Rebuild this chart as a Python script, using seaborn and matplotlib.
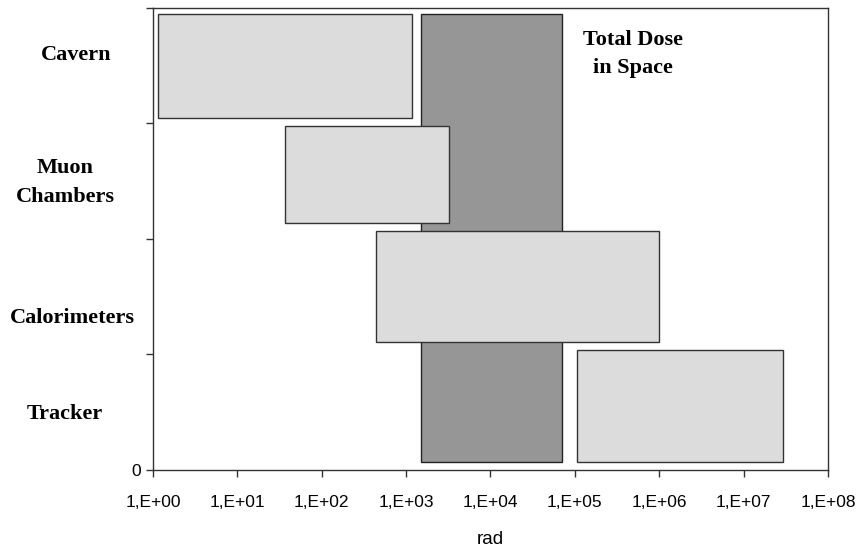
import pandas as pd
import seaborn as sns
import matplotlib.pyplot as plt
import matplotlib.transforms as mtransforms
from matplotlib.ticker import FixedLocator, FixedFormatter

# detector regions, dose range in rad and vertical extent of each box
regions = ['Cavern', 'Muon\nChambers', 'Calorimeters', 'Tracker']
dose_low = [1.15, 37, 435, 1.06e5]
dose_high = [1.18e3, 3.24e3, 9.9e5, 2.95e7]
band_bottom = [3.05, 2.14, 1.105, 0.07]
band_top = [3.95, 2.975, 2.07, 1.035]
label_y = [3.59, 2.49, 1.32, 0.485]

# total dose in space band
space_low = 1.49e3
space_high = 6.96e4
space_bottom = 0.07
space_top = 3.95

xtick_values = [1e0, 1e1, 1e2, 1e3, 1e4, 1e5, 1e6, 1e7, 1e8]
xtick_labels = ['1,E+00', '1,E+01', '1,E+02', '1,E+03', '1,E+04',
                '1,E+05', '1,E+06', '1,E+07', '1,E+08']

df = pd.DataFrame({'region': regions, 'low': dose_low, 'high': dose_high,
                   'bottom': band_bottom, 'top': band_top})

sns.set_style('ticks')
plt.rcParams['font.family'] = ['Liberation Sans', 'DejaVu Sans']
plt.rcParams['text.color'] = 'black'
plt.rcParams['axes.labelcolor'] = 'black'

fig = plt.figure(figsize=(8.58, 5.5), dpi=100)
ax = fig.add_axes([0.1783, 0.1455, 0.7867, 0.84])

ax.barh(y=(space_bottom + space_top) / 2, width=space_high - space_low,
        height=space_top - space_bottom, left=space_low, align='center',
        color='#969696', edgecolor='#222222', linewidth=1.0, zorder=1)

ax.barh(y=(df['bottom'] + df['top']) / 2, width=df['high'] - df['low'],
        height=df['top'] - df['bottom'], left=df['low'], align='center',
        color='#dcdcdc', edgecolor='#333333', linewidth=1.0, zorder=2)

ax.set_xscale('log')
ax.set_xlim(1, 1e8)
ax.set_ylim(0, 4)
ax.xaxis.set_major_locator(FixedLocator(xtick_values))
ax.xaxis.set_major_formatter(FixedFormatter(xtick_labels))
ax.xaxis.set_minor_locator(FixedLocator([]))
ax.set_yticks([0, 1, 2, 3, 4])
ax.set_yticklabels(['0', '', '', '', ''])
ax.tick_params(axis='both', direction='out', length=5, width=1,
               color='#333333', labelsize=12.5, labelcolor='black')
ax.tick_params(axis='x', pad=13)
for s in ax.spines.values():
    s.set_color('#333333')
    s.set_linewidth(1.0)

ax.set_xlabel('rad', fontsize=13.5, labelpad=15)

trans = mtransforms.blended_transform_factory(ax.transAxes, ax.transData)
label_x = [-0.114, -0.130, -0.119, -0.130]
for name, lx, ly in zip(regions, label_x, label_y):
    ax.text(lx, ly, name, transform=trans, ha='center', va='center',
            fontsize=16, fontweight='bold', family='Liberation Serif',
            linespacing=1.55)

ax.text(4.9e5, 3.60, 'Total Dose\nin Space', ha='center', va='center',
        fontsize=16, fontweight='bold', family='Liberation Serif',
        linespacing=1.55)

fig.savefig('out.png', dpi=100)
